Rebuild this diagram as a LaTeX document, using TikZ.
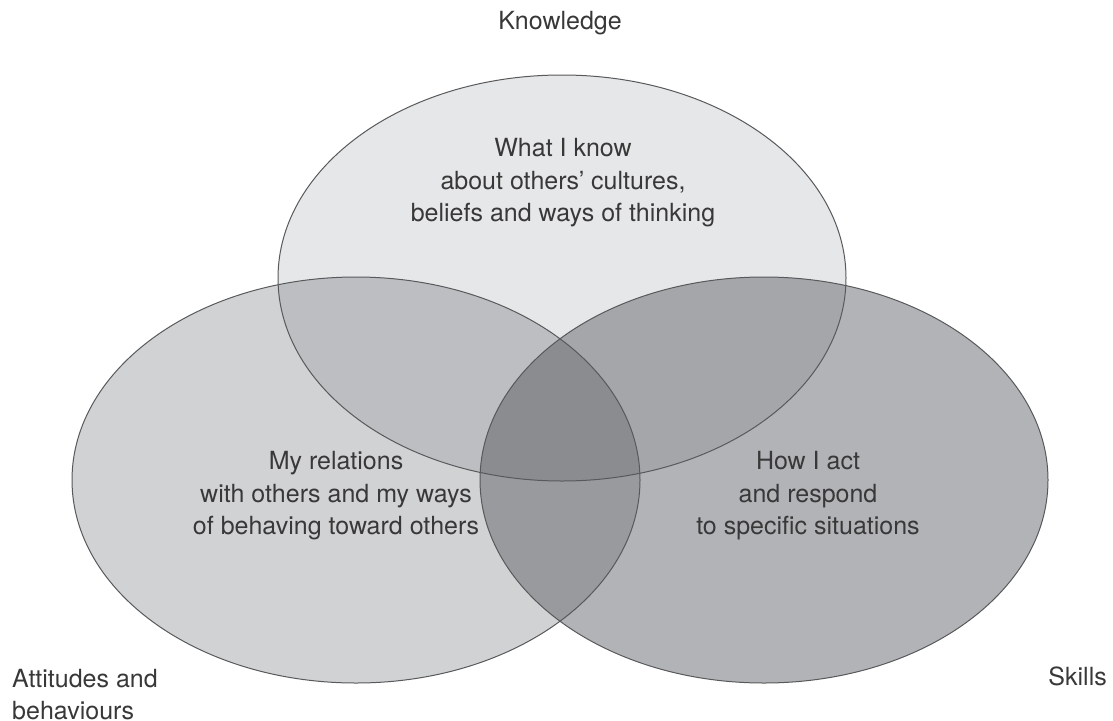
\documentclass[tikz,border=0pt]{standalone}
\usepackage{fontspec}
\setmainfont{TeX Gyre Heros}
\definecolor{knowfill}{HTML}{E6E7E8}
\definecolor{attfill}{HTML}{D1D2D4}
\definecolor{skillfill}{HTML}{B1B3B6}
\definecolor{knowattfill}{HTML}{BDBEC1}
\definecolor{knowskillfill}{HTML}{A5A6A9}
\definecolor{attskillfill}{HTML}{999A9D}
\definecolor{allfill}{HTML}{8B8C8F}
\definecolor{edgegray}{HTML}{58595B}
\definecolor{textgray}{HTML}{383838}
\tikzstyle{outline}=[draw=edgegray, line width=1pt]
\tikzstyle{label}=[text=textgray, font=\fontsize{25}{32.5}\selectfont, inner sep=0pt, align=center]

\begin{document}
\begin{tikzpicture}[x=1pt, y=-1pt]
  \useasboundingbox (0, 0) rectangle (1113, 720);
  \coordinate (know) at (562, 278);
  \coordinate (att) at (356, 480);
  \coordinate (skill) at (764, 480);
  % plain sets
  \fill[attfill] (att) ellipse [x radius=284pt, y radius=203pt];
  \fill[skillfill] (skill) ellipse [x radius=284pt, y radius=203pt];
  \fill[knowfill] (know) ellipse [x radius=284pt, y radius=203pt];
  % overlaps
  \begin{scope}
    \clip (know) ellipse [x radius=284pt, y radius=203pt];
    \fill[knowattfill] (att) ellipse [x radius=284pt, y radius=203pt];
    \fill[knowskillfill] (skill) ellipse [x radius=284pt, y radius=203pt];
  \end{scope}
  \begin{scope}
    \clip (att) ellipse [x radius=284pt, y radius=203pt];
    \fill[attskillfill] (skill) ellipse [x radius=284pt, y radius=203pt];
    \clip (know) ellipse [x radius=284pt, y radius=203pt];
    \fill[allfill] (skill) ellipse [x radius=284pt, y radius=203pt];
  \end{scope}
  \draw[outline] (know) ellipse [x radius=284pt, y radius=203pt];
  \draw[outline] (att) ellipse [x radius=284pt, y radius=203pt];
  \draw[outline] (skill) ellipse [x radius=284pt, y radius=203pt];
  % texts
  \node[label] (knowtext) at (563, 183) {What I know\\about others’ cultures,\\beliefs and ways of thinking};
  \node[label] (atttext) at (336, 496) {My relations\\with others and my ways\\of behaving toward others};
  \node[label] (skilltext) at (808, 496) {How I act\\and respond\\to specific situations};
  \node[label, anchor=base] (knowname) at (560, 29) {Knowledge};
  \node[label, anchor=base east] (skillname) at (1107, 685) {Skills};
  \node[label, align=left, anchor=north west] (attname) at (12, 669) {Attitudes and\\behaviours};
\end{tikzpicture}
\end{document}
